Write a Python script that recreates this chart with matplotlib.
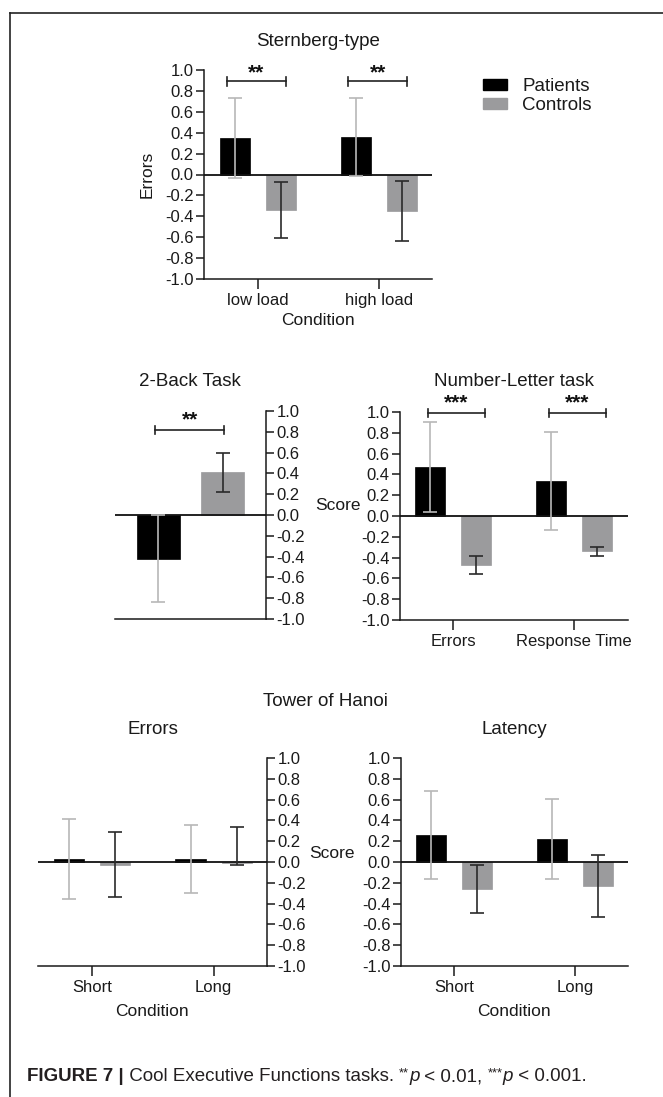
import matplotlib
matplotlib.use("Agg")
import matplotlib.pyplot as plt
from matplotlib.lines import Line2D
from matplotlib.patches import Patch
import numpy as np

plt.rcParams["font.family"] = ["Liberation Sans", "DejaVu Sans"]
plt.rcParams["axes.unicode_minus"] = False

# ---------------- data ----------------
sternberg_conditions = ["low load", "high load"]
sternberg_patients = [0.35, 0.36]
sternberg_patients_err = [0.38, 0.37]
sternberg_controls = [-0.34, -0.35]
sternberg_controls_err = [0.27, 0.29]
sternberg_sig = ["**", "**"]

twoback_patients = [-0.42]
twoback_patients_err = [0.42]
twoback_controls = [0.41]
twoback_controls_err = [0.19]
twoback_sig = "**"

numletter_conditions = ["Errors", "Response Time"]
numletter_patients = [0.47, 0.34]
numletter_patients_err = [0.435, 0.47]
numletter_controls = [-0.47, -0.34]
numletter_controls_err = [0.09, 0.04]
numletter_sig = ["***", "***"]

hanoi_conditions = ["Short", "Long"]
hanoi_errors_patients = [0.025, 0.03]
hanoi_errors_patients_err = [0.385, 0.33]
hanoi_errors_controls = [-0.025, -0.01]
hanoi_errors_controls_err_low = [0.315, 0.02]
hanoi_errors_controls_err_high = [0.315, 0.35]

hanoi_latency_patients = [0.26, 0.225]
hanoi_latency_patients_err = [0.42, 0.385]
hanoi_latency_controls = [-0.26, -0.23]
hanoi_latency_controls_err = [0.235, 0.295]

yticks = [-1.0, -0.8, -0.6, -0.4, -0.2, 0.0, 0.2, 0.4, 0.6, 0.8, 1.0]
ytick_labels = ["-1.0", "-0.8", "-0.6", "-0.4", "-0.2", "0.0", "0.2", "0.4", "0.6", "0.8", "1.0"]

# ---------------- style ----------------
W, H = 663, 1097
DPI = 100
PAT_COLOR = "#000000"
CON_COLOR = "#9b9b9d"
PAT_ERR = "#b8b8b8"
CON_ERR = "#2a2a2a"
TXT = "#1a1a1a"
LW = 1.1
TICK_FS = 12
TITLE_FS = 13.5
LABEL_FS = 12.5

fig = plt.figure(figsize=(W / DPI, H / DPI), dpi=DPI)


def px_axes(left, right, top, bottom):
    return fig.add_axes([left / W, 1 - bottom / H, (right - left) / W, (bottom - top) / H])


def fx(x):
    return x / W


def fy(y):
    return 1 - y / H


def style_axis(ax, side="left", xticks=True):
    ax.set_ylim(-1.0, 1.0)
    ax.set_yticks(yticks)
    ax.set_yticklabels(ytick_labels)
    for s in ["top", "left", "right", "bottom"]:
        ax.spines[s].set_visible(False)
        ax.spines[s].set_linewidth(LW)
        ax.spines[s].set_color(TXT)
    ax.spines["bottom"].set_visible(True)
    ax.spines[side].set_visible(True)
    if side == "right":
        ax.yaxis.tick_right()
    ax.tick_params(axis="y", length=6, width=LW, pad=1.5, labelsize=TICK_FS,
                   colors=TXT, direction="out")
    ax.tick_params(axis="x", length=7 if xticks else 0, width=LW, pad=3,
                   labelsize=TICK_FS, colors=TXT)
    ax.axhline(0, color="#111111", lw=1.3, zorder=4)
    ax.set_facecolor("none")


def grouped_bars(ax, pat, pat_err, con, con_err_low, con_err_high, off=0.19, width=0.248):
    x = np.arange(len(pat))
    ax.bar(x - off, pat, width, color=PAT_COLOR, edgecolor=PAT_COLOR, lw=0.5, zorder=2)
    ax.bar(x + off, con, width, color=CON_COLOR, edgecolor=CON_COLOR, lw=0.5, zorder=2)
    ax.errorbar(x - off, pat, yerr=pat_err, fmt="none", ecolor=PAT_ERR,
                elinewidth=1.2, capsize=5, capthick=1.2, zorder=5)
    ax.errorbar(x + off, con, yerr=[con_err_low, con_err_high], fmt="none", ecolor=CON_ERR,
                elinewidth=1.2, capsize=5, capthick=1.2, zorder=5)
    return x


def bracket(ax, x0, x1, y, stars, star_y, h=0.04):
    ax.plot([x0, x1], [y, y], color="#222222", lw=1.2, clip_on=False, zorder=6)
    for xx in (x0, x1):
        ax.plot([xx, xx], [y - h, y + h], color="#222222", lw=1.2, clip_on=False, zorder=6)
    ax.text((x0 + x1) / 2, star_y, stars, ha="center", va="center", fontsize=15,
            fontweight="bold", color="#111111", clip_on=False)


# ---------------- Sternberg-type ----------------
ax1 = px_axes(204, 432, 70, 279)
x = grouped_bars(ax1, sternberg_patients, sternberg_patients_err,
                 sternberg_controls, sternberg_controls_err, sternberg_controls_err)
ax1.set_xlim(-0.444, 1.44)
style_axis(ax1, "left")
ax1.set_xticks(x)
ax1.set_xticklabels(sternberg_conditions)
for xi, s in zip(x, sternberg_sig):
    bracket(ax1, xi - 0.25, xi + 0.23, 0.89, s, 0.975)
fig.text(fx(318), fy(41), "Sternberg-type", ha="center", va="center", fontsize=TITLE_FS, color=TXT)
fig.text(fx(147), fy(174), "Errors", ha="center", va="center", rotation=90, fontsize=LABEL_FS, color=TXT)
fig.text(fx(318), fy(321), "Condition", ha="center", va="center", fontsize=LABEL_FS, color=TXT)

# legend
fig.legend(handles=[Patch(facecolor=PAT_COLOR, edgecolor=PAT_COLOR, label="Patients"),
                    Patch(facecolor=CON_COLOR, edgecolor=CON_COLOR, label="Controls")],
           loc="upper left", bbox_to_anchor=(fx(483), fy(78)), frameon=False,
           fontsize=13.5, handlelength=1.3, handleheight=0.55, handletextpad=0.8,
           labelspacing=0.12, borderpad=0, borderaxespad=0, labelcolor=TXT)

# ---------------- 2-Back ----------------
ax2 = px_axes(115, 266, 411, 619)
xb = np.array([0.0, 1.0])
ax2.bar(xb[0], twoback_patients[0], 0.667, color=PAT_COLOR, edgecolor=PAT_COLOR, lw=0.5, zorder=2)
ax2.bar(xb[1], twoback_controls[0], 0.667, color=CON_COLOR, edgecolor=CON_COLOR, lw=0.5, zorder=2)
ax2.errorbar(xb[0], twoback_patients[0], yerr=twoback_patients_err[0], fmt="none",
             ecolor=PAT_ERR, elinewidth=1.2, capsize=5, capthick=1.2, zorder=5)
ax2.errorbar(xb[1], twoback_controls[0], yerr=twoback_controls_err[0], fmt="none",
             ecolor=CON_ERR, elinewidth=1.2, capsize=5, capthick=1.2, zorder=5)
ax2.set_xlim(-0.667, 1.674)
style_axis(ax2, "right", xticks=False)
ax2.set_xticks([])
bracket(ax2, -0.04, 1.03, 0.82, twoback_sig, 0.915)
fig.text(fx(190), fy(382), "2-Back Task", ha="center", va="center", fontsize=TITLE_FS, color=TXT)

# ---------------- Number-Letter ----------------
ax3 = px_axes(400, 628, 412, 620)
x = grouped_bars(ax3, numletter_patients, numletter_patients_err,
                 numletter_controls, numletter_controls_err, numletter_controls_err)
ax3.set_xlim(-0.44, 1.446)
style_axis(ax3, "left")
ax3.set_xticks(x)
ax3.set_xticklabels(numletter_conditions)
for xi, s in zip(x, numletter_sig):
    bracket(ax3, xi - 0.21, xi + 0.26, 0.99, s, 1.09)
fig.text(fx(514), fy(382), "Number-Letter task", ha="center", va="center", fontsize=TITLE_FS, color=TXT)
fig.text(fx(338), fy(505), "Score", ha="center", va="center", fontsize=LABEL_FS, color=TXT)

# ---------------- Tower of Hanoi ----------------
fig.text(fx(325), fy(701), "Tower of Hanoi", ha="center", va="center", fontsize=TITLE_FS, color=TXT)

ax4 = px_axes(38, 267, 758, 966)
x = grouped_bars(ax4, hanoi_errors_patients, hanoi_errors_patients_err,
                 hanoi_errors_controls, hanoi_errors_controls_err_low,
                 hanoi_errors_controls_err_high)
ax4.set_xlim(-0.446, 1.44)
style_axis(ax4, "right")
ax4.set_xticks(x)
ax4.set_xticklabels(hanoi_conditions)
fig.text(fx(153), fy(729), "Errors", ha="center", va="center", fontsize=TITLE_FS, color=TXT)
fig.text(fx(152), fy(1012), "Condition", ha="center", va="center", fontsize=LABEL_FS, color=TXT)

ax5 = px_axes(401, 628, 758, 966)
x = grouped_bars(ax5, hanoi_latency_patients, hanoi_latency_patients_err,
                 hanoi_latency_controls, hanoi_latency_controls_err, hanoi_latency_controls_err)
ax5.set_xlim(-0.44, 1.44)
style_axis(ax5, "left")
ax5.set_xticks(x)
ax5.set_xticklabels(hanoi_conditions)
fig.text(fx(514), fy(729), "Latency", ha="center", va="center", fontsize=TITLE_FS, color=TXT)
fig.text(fx(514), fy(1012), "Condition", ha="center", va="center", fontsize=LABEL_FS, color=TXT)
fig.text(fx(332), fy(854), "Score", ha="center", va="center", fontsize=LABEL_FS, color=TXT)

# ---------------- frame and caption ----------------
fig.add_artist(Line2D([fx(10), 1.0], [fy(12.5), fy(12.5)], color="#222222", lw=1.2))
fig.add_artist(Line2D([fx(10), fx(10)], [fy(12.5), 0.0], color="#222222", lw=1.2))

# caption assembled from styled pieces laid out left to right
renderer = fig.canvas.get_renderer()
CAP_FS = 13.5
CAP_COLOR = "#231f20"
base_y = 1081  # baseline in pixels from top
pieces = [
    ("FIGURE 7 |", dict(fontweight="bold"), 0),
    (" Cool Executive Functions tasks. ", dict(), 0),
    ("**", dict(fontsize=CAP_FS * 0.7), 5),
    ("p", dict(style="italic"), 0),
    (" < 0.01, ", dict(), 0),
    ("***", dict(fontsize=CAP_FS * 0.7), 5),
    ("p", dict(style="italic"), 0),
    (" < 0.001.", dict(), 0),
]
cur_x = 27.0
for txt, kw, rise in pieces:
    props = dict(fontsize=CAP_FS, color=CAP_COLOR)
    props.update(kw)
    t = fig.text(fx(cur_x), fy(base_y) + rise / H, txt, ha="left", va="baseline", **props)
    bb = t.get_window_extent(renderer=renderer)
    cur_x += bb.width

fig.savefig("out.png", dpi=DPI)
